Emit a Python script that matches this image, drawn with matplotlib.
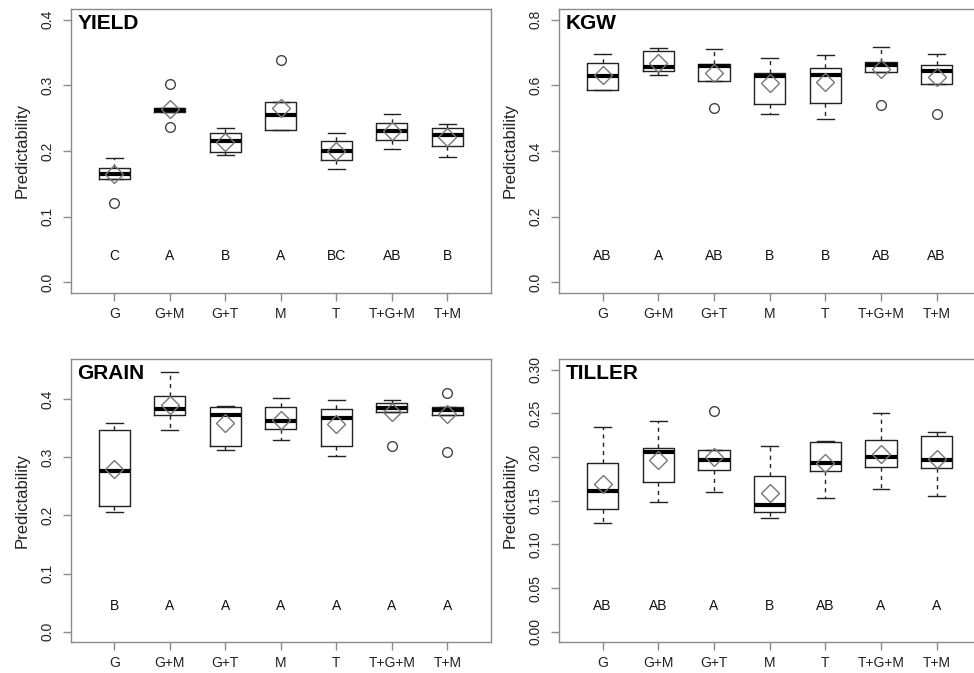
import matplotlib
matplotlib.use("Agg")
import matplotlib.pyplot as plt

plt.rcParams['font.family'] = ['Liberation Sans', 'DejaVu Sans']

categories = ["G", "G+M", "G+T", "M", "T", "T+G+M", "T+M"]

# YIELD
yield_whislo = [0.157, 0.260, 0.1936, 0.232, 0.172, 0.2028, 0.191]
yield_q1 = [0.158, 0.260, 0.1987, 0.232, 0.186, 0.217, 0.2069]
yield_med = [0.1656, 0.263, 0.2145, 0.255, 0.2003, 0.2308, 0.2237]
yield_q3 = [0.1748, 0.265, 0.227, 0.275, 0.2145, 0.243, 0.2354]
yield_whishi = [0.190, 0.265, 0.2354, 0.275, 0.2268, 0.2558, 0.2405]
yield_mean = [0.1646, 0.264, 0.213, 0.265, 0.200, 0.231, 0.2206]
yield_fliers = [[0.120], [0.302, 0.237], [], [0.339], [], [], []]
yield_letters = ["C", "A", "B", "A", "BC", "AB", "B"]

# KGW
kgw_whislo = [0.587, 0.633, 0.6145, 0.5126, 0.497, 0.640, 0.604]
kgw_q1 = [0.587, 0.643, 0.6145, 0.542, 0.547, 0.640, 0.604]
kgw_med = [0.628, 0.657, 0.658, 0.630, 0.633, 0.662, 0.643]
kgw_q3 = [0.6685, 0.704, 0.6655, 0.639, 0.652, 0.6726, 0.661]
kgw_whishi = [0.696, 0.713, 0.712, 0.683, 0.692, 0.7185, 0.696]
kgw_mean = [0.633, 0.6675, 0.6375, 0.606, 0.609, 0.650, 0.627]
kgw_fliers = [[], [], [0.531], [], [], [0.541], [0.5116]]
kgw_letters = ["AB", "A", "AB", "B", "B", "AB", "AB"]

# GRAIN
grain_whislo = [0.2066, 0.347, 0.3128, 0.330, 0.3024, 0.378, 0.372]
grain_q1 = [0.2158, 0.3725, 0.3197, 0.349, 0.3197, 0.378, 0.372]
grain_med = [0.2755, 0.3828, 0.372, 0.362, 0.368, 0.385, 0.381]
grain_q3 = [0.346, 0.4057, 0.3857, 0.3857, 0.3828, 0.3925, 0.3868]
grain_whishi = [0.358, 0.4465, 0.388, 0.401, 0.3989, 0.398, 0.3868]
grain_mean = [0.280, 0.390, 0.358, 0.3644, 0.3564, 0.377, 0.3736]
grain_fliers = [[], [], [], [], [], [0.319], [0.410, 0.309]]
grain_letters = ["B", "A", "A", "A", "A", "A", "A"]

# TILLER
tiller_whislo = [0.1246, 0.1483, 0.1605, 0.1299, 0.1529, 0.1632, 0.1559]
tiller_q1 = [0.1406, 0.1712, 0.1854, 0.1372, 0.1842, 0.1888, 0.1873]
tiller_med = [0.1609, 0.206, 0.1968, 0.1456, 0.193, 0.1999, 0.1968]
tiller_q3 = [0.1934, 0.2106, 0.2087, 0.1789, 0.2178, 0.2194, 0.2243]
tiller_whishi = [0.235, 0.2415, 0.2087, 0.2132, 0.2186, 0.2503, 0.2285]
tiller_mean = [0.1693, 0.197, 0.200, 0.1586, 0.193, 0.2037, 0.198]
tiller_fliers = [[], [], [0.2526], [], [], [], []]
tiller_letters = ["AB", "AB", "A", "B", "AB", "A", "A"]

panels = [
    ("YIELD", yield_whislo, yield_q1, yield_med, yield_q3, yield_whishi, yield_mean, yield_fliers, yield_letters, 0.4, [0.0, 0.1, 0.2, 0.3, 0.4], "%.1f"),
    ("KGW", kgw_whislo, kgw_q1, kgw_med, kgw_q3, kgw_whishi, kgw_mean, kgw_fliers, kgw_letters, 0.8, [0.0, 0.2, 0.4, 0.6, 0.8], "%.1f"),
    ("GRAIN", grain_whislo, grain_q1, grain_med, grain_q3, grain_whishi, grain_mean, grain_fliers, grain_letters, 0.45, [0.0, 0.1, 0.2, 0.3, 0.4], "%.1f"),
    ("TILLER", tiller_whislo, tiller_q1, tiller_med, tiller_q3, tiller_whishi, tiller_mean, tiller_fliers, tiller_letters, 0.30, [0.0, 0.05, 0.10, 0.15, 0.20, 0.25, 0.30], "%.2f"),
]

W, H = 974, 673
fig = plt.figure(figsize=(W / 100, H / 100), dpi=100)

# pixel boxes (left, right, top, bottom)
boxes_px = [(71, 490.7, 9.3, 292.7), (559.3, 980, 9.3, 292.7),
            (71, 490.7, 359.3, 642.3), (559.3, 980, 359.3, 642.3)]

frame_col = "#8a8a8a"
text_col = "#222222"
n = len(categories)
pos = list(range(1, n + 1))

for (title, wl, q1, med, q3, wh, mean, fl, letters, ymax, yticks, fmt), (l, r, t, b) in zip(panels, boxes_px):
    ax = fig.add_axes([l / W, 1 - b / H, (r - l) / W, (b - t) / H])
    stats = []
    for i in range(n):
        stats.append(dict(med=med[i], q1=q1[i], q3=q3[i], whislo=wl[i], whishi=wh[i],
                          fliers=fl[i], mean=mean[i], label=categories[i]))
    ax.bxp(stats, positions=pos, widths=0.56, showmeans=True, patch_artist=False,
           boxprops=dict(color="#222222", linewidth=1.0),
           medianprops=dict(color="black", linewidth=3.0, solid_capstyle="butt"),
           whiskerprops=dict(color="#222222", linewidth=1.0, linestyle=(0, (3, 3))),
           capprops=dict(color="#222222", linewidth=1.0),
           capwidths=0.3,
           flierprops=dict(marker="o", markerfacecolor="none", markeredgecolor="#444444",
                           markersize=7, markeredgewidth=1.0),
           meanprops=dict(marker="D", markerfacecolor="none", markeredgecolor="#777777",
                          markersize=9, markeredgewidth=1.0))
    ext = 0.04 * ymax
    ax.set_ylim(-ext, ymax + ext)
    ax.set_xlim(0.5 - 0.28, n + 0.5 + 0.28)
    ax.set_yticks(yticks)
    ax.set_yticklabels([fmt % v for v in yticks], rotation=90, va="center")
    ax.set_xticks(pos)
    ax.set_xticklabels(categories)
    for s in ax.spines.values():
        s.set_color(frame_col)
        s.set_linewidth(1.0)
    ax.tick_params(axis="both", direction="out", length=6, width=1.0, color=frame_col,
                   labelcolor=text_col, labelsize=10)
    ax.tick_params(axis="x", pad=4)
    ax.tick_params(axis="y", pad=6)
    ax.set_ylabel("Predictability", fontsize=12, color=text_col, labelpad=8)
    for i in range(n):
        ax.text(pos[i], 0.1 * ymax, letters[i], ha="center", va="center",
                fontsize=10, color="#111111")
    ax.text(0.015, 0.985, title, transform=ax.transAxes, ha="left", va="top",
            fontsize=15, fontweight="bold", color="black")

fig.savefig("out.png", dpi=100)
